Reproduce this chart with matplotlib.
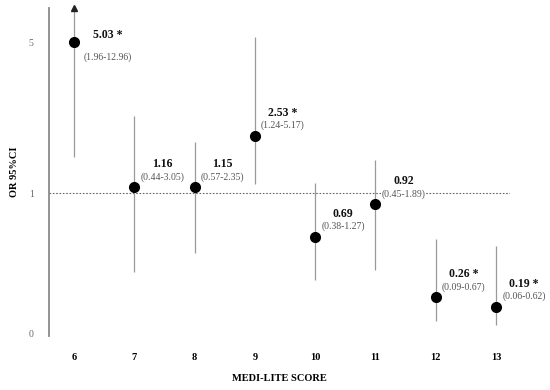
import numpy as np
import matplotlib
matplotlib.use('Agg')
import matplotlib.pyplot as plt

# Data
scores = [6, 7, 8, 9, 10, 11, 12, 13]
odds = [5.03, 1.16, 1.15, 2.53, 0.69, 0.92, 0.26, 0.19]
ci_low = [1.96, 0.44, 0.57, 1.24, 0.38, 0.45, 0.09, 0.06]
ci_high = [12.96, 3.05, 2.35, 5.17, 1.27, 1.89, 0.67, 0.62]
signif = [True, False, False, True, False, False, True, True]
yticks = [0, 1, 5]

plt.rcParams['font.family'] = ['Liberation Serif', 'DejaVu Serif']

# axis is compressed above OR = 1
K = 0.268
def fwd(v):
    v = np.asarray(v, dtype=float)
    return np.where(v <= 1, v, 1 + (v - 1) * K)
def inv(u):
    u = np.asarray(u, dtype=float)
    return np.where(u <= 1, u, 1 + (u - 1) / K)

fig = plt.figure(figsize=(5.5, 3.9), dpi=100)
ax = fig.add_axes([0.089, 0.1385, 0.838, 0.841])
ax.set_yscale('function', functions=(fwd, inv))
ax.set_ylim(-0.02, 5.93)
ax.set_xlim(5.585, 13.23)
top = ax.get_ylim()[1]

ax.axhline(1, color='#666666', lw=0.8, ls=(0, (1.5, 1.5)), zorder=1)

box = dict(boxstyle='square,pad=0.05', fc='white', ec='none')
for x, o, lo, hi, s in zip(scores, odds, ci_low, ci_high, signif):
    ax.vlines(x, lo, min(hi, top), color='#9a9a9a', lw=0.9, zorder=2)
    if hi > top:
        ax.plot(x, top, marker='^', color='#222222', markersize=4, clip_on=False, zorder=3)
    ax.plot(x, o, 'o', color='black', markersize=7, zorder=4)
    lab = f'{o:.2f} *' if s else f'{o:.2f}'
    cil = f'({lo:.2f}-{hi:.2f})'
    if hi > top:
        off1, off2 = (34, 7), (34, -15)
    else:
        off1, off2 = (28, 23), (28, 10)
    ax.annotate(lab, (x, o), xytext=off1, textcoords='offset pixels', bbox=box,
                ha='center', va='center', fontsize=8.5, fontweight='bold', color='#111111', zorder=5)
    ax.annotate(cil, (x, o), xytext=off2, textcoords='offset pixels', bbox=box,
                ha='center', va='center', fontsize=7, color='#555555', zorder=5)

for side in ['top', 'right', 'bottom']:
    ax.spines[side].set_visible(False)
ax.spines['left'].set_color('#8a8a8a')
ax.spines['left'].set_linewidth(1.3)

ax.set_yticks(yticks)
ax.set_yticklabels([str(t) for t in yticks])
ax.set_xticks(scores)
ax.tick_params(axis='y', length=0, pad=11, labelsize=7, labelcolor='#666666')
ax.tick_params(axis='x', length=0, pad=12, labelsize=7.5)
for t in ax.get_xticklabels():
    t.set_fontweight('bold')

ax.set_xlabel('MEDI-LITE SCORE', fontsize=7.5, fontweight='bold', labelpad=9)
ax.set_ylabel('OR 95%CI', fontsize=7.5, fontweight='bold', labelpad=7)

fig.savefig('out.png', dpi=100)
